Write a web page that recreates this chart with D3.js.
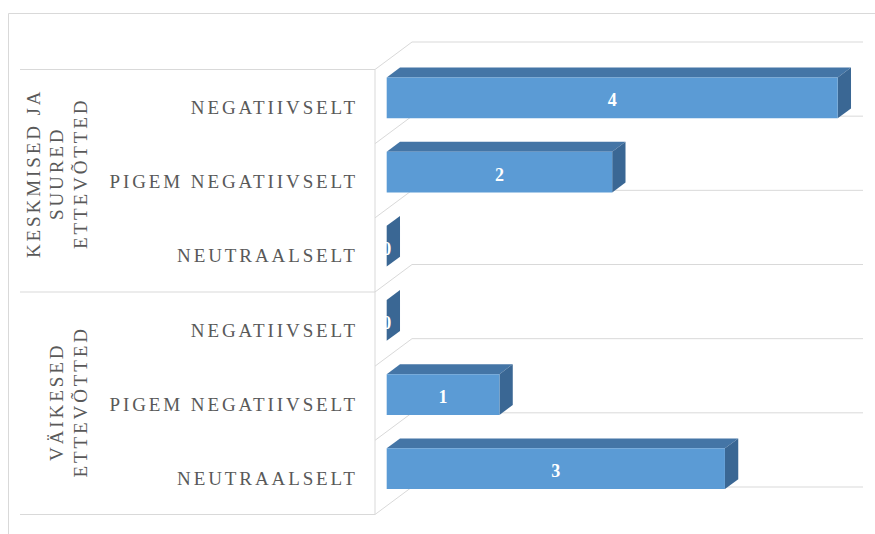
<!DOCTYPE html>
<html>
<head>
<meta charset="utf-8">
<script src="https://cdn.jsdelivr.net/npm/d3@7"></script>
<style>
  html, body { margin: 0; padding: 0; background: #fff; }
  svg { display: block; }
</style>
</head>
<body>
<svg id="chart" width="875" height="534"></svg>
<script>
// ---- data ----
const groupLines = [["KESKMISED JA", "SUURED", "ETTEVÕTTED"], ["VÄIKESED", "ETTEVÕTTED"]];
const categories = ["NEGATIIVSELT", "PIGEM NEGATIIVSELT", "NEUTRAALSELT"];
const values = [[4, 2, 0], [0, 1, 3]];

// ---- layout ----
const W = 875, H = 534;
const wallX = 375;           // front edge of the left wall
const DX = 37, DY = 27.5;    // depth offset (front -> back)
const z0 = 0.316, z1 = 0.676; // bar front/back depth
const barFrac = 0.55;
const gridColor = "#D9D9D9";
const textColor = "#595959";
const fontFam = "'Liberation Serif', 'Times New Roman', serif";

const rows = [];
values.forEach((vals, g) => vals.forEach((v, c) => rows.push({ g, c, v, key: g + "-" + c })));

const svg = d3.select("#chart");

const y = d3.scaleBand().domain(rows.map(r => r.key)).range([42, 487]).padding(0);
const x = d3.scaleLinear().domain([0, d3.max(values.flat())]).range([0, 451]);
const step = y.step();

function proj(v, yb, z) {
  return [wallX + DX * z + x(v), yb + DY * (1 - z)];
}

// outer frame
svg.append("path")
  .attr("d", `M8.5,${H} V13.5 H${W}`)
  .attr("fill", "none").attr("stroke", gridColor).attr("stroke-width", 1);

// gridlines on back wall + diagonals
const boundaries = d3.range(rows.length + 1).map(k => y.range()[0] + k * step);
const line = d3.line();
boundaries.forEach(yb => {
  svg.append("path").attr("d", line([proj(0, yb, 1), proj(x.domain()[1], yb, 1)]))
    .attr("stroke", gridColor).attr("fill", "none");
  svg.append("path").attr("d", line([proj(0, yb, 0), proj(0, yb, 1)]))
    .attr("stroke", gridColor).attr("fill", "none");
});
// front vertical edge
svg.append("path").attr("d", line([proj(0, boundaries[0], 0), proj(0, boundaries[boundaries.length - 1], 0)]))
  .attr("stroke", gridColor).attr("fill", "none");

// group separator lines on the left
const nPer = categories.length;
d3.range(groupLines.length + 1).forEach(g => {
  const yb = y.range()[0] + g * nPer * step;
  const p = proj(0, yb, 0);
  svg.append("path").attr("d", line([[20, p[1]], p]))
    .attr("stroke", gridColor).attr("fill", "none");
});

// bars
const barG = svg.append("g");
rows.forEach(r => {
  const bw = y.bandwidth();
  const bh = bw * barFrac;
  const yt = y(r.key) + (bw - bh) / 2;
  const yb = yt + bh;
  const poly = pts => "M" + pts.map(p => p.join(",")).join("L") + "Z";
  barG.append("path")
    .attr("d", poly([proj(0, yt, z0), proj(r.v, yt, z0), proj(r.v, yt, z1), proj(0, yt, z1)]))
    .attr("fill", "#4475A6");
  barG.append("path")
    .attr("d", poly([proj(r.v, yt, z0), proj(r.v, yt, z1), proj(r.v, yb, z1), proj(r.v, yb, z0)]))
    .attr("fill", "#3A6794");
  if (r.v > 0) {
    barG.append("path")
      .attr("d", poly([proj(0, yt, z0), proj(r.v, yt, z0), proj(r.v, yb, z0), proj(0, yb, z0)]))
      .attr("fill", "#5B9BD5");
  }
});

// value labels
rows.forEach(r => {
  const bw = y.bandwidth();
  const bh = bw * barFrac;
  const yt = y(r.key) + (bw - bh) / 2;
  const a = proj(0, yt + bh / 2, z0), b = proj(r.v, yt + bh / 2, z0);
  svg.append("text")
    .attr("x", (a[0] + b[0]) / 2)
    .attr("y", a[1] + 8.5)
    .attr("text-anchor", "middle")
    .attr("font-family", fontFam)
    .attr("font-weight", "bold")
    .attr("font-size", 18)
    .attr("fill", "#ffffff")
    .text(r.v);
});

// category labels
const lsCat = 2.9;
rows.forEach(r => {
  const c = proj(0, y(r.key) + y.bandwidth() / 2, 0);
  svg.append("text")
    .attr("x", 355 + lsCat)
    .attr("y", c[1] + 7.5)
    .attr("text-anchor", "end")
    .attr("font-family", fontFam)
    .attr("font-size", 19)
    .attr("letter-spacing", lsCat)
    .attr("fill", textColor)
    .text(categories[r.c]);
});

// group labels (rotated)
const lsGrp = 2.9;
groupLines.forEach((lines, g) => {
  const yTopB = y.range()[0] + g * nPer * step;
  const yBotB = yTopB + nPer * step;
  const cy = (proj(0, yTopB, 0)[1] + proj(0, yBotB, 0)[1]) / 2;
  const n = lines.length;
  lines.forEach((t, i) => {
    const bx = 86.5 - (n - 1 - i) * 23.3;
    svg.append("text")
      .attr("transform", `translate(${bx},${cy - lsGrp / 2 + (g === 0 ? -6 : 0)}) rotate(-90)`)
      .attr("text-anchor", "middle")
      .attr("font-family", fontFam)
      .attr("font-size", 19)
      .attr("letter-spacing", lsGrp)
      .attr("fill", textColor)
      .text(t);
  });
});
</script>
</body>
</html>
